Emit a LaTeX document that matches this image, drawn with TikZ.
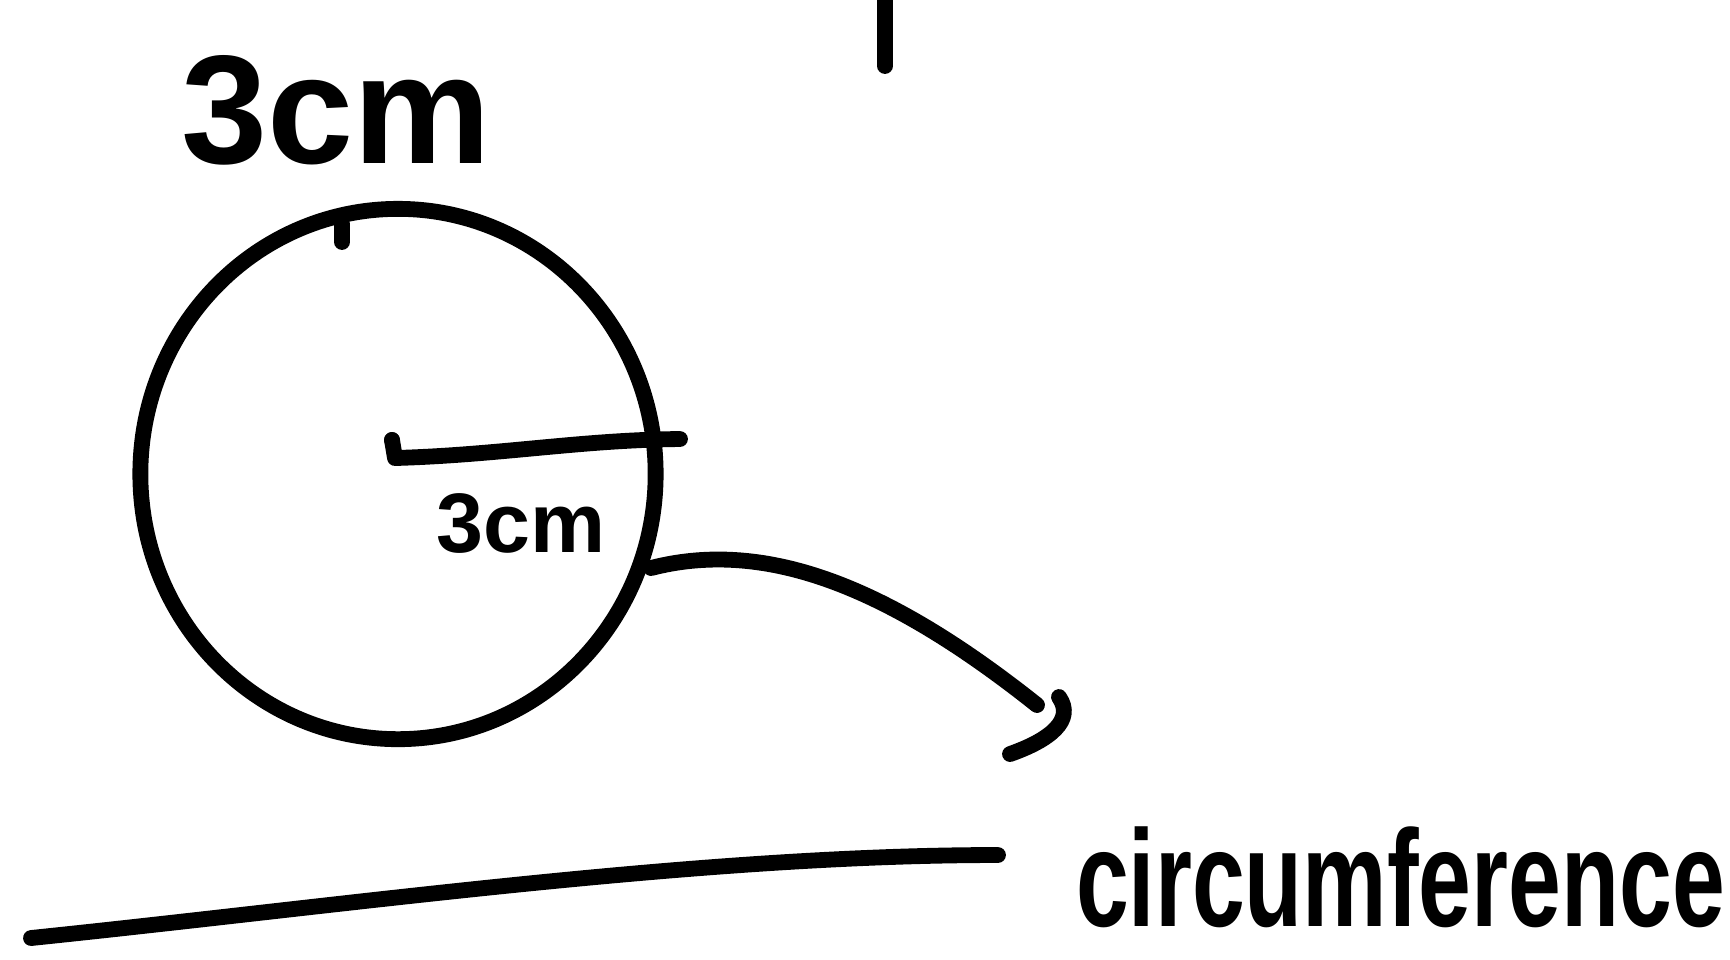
\documentclass[tikz,border=0pt]{standalone}
\usepackage{fontspec}
\usetikzlibrary{shapes.geometric}
\setmainfont{Liberation Sans}
\begin{document}
\begin{tikzpicture}[x=0.01cm,y=-0.01cm,
  pen/.style={line width=4.5pt,line cap=round,line join=round},
  handtext/.style={inner sep=0pt,outer sep=0pt,font=\bfseries}]
\useasboundingbox (0,0) rectangle (1730,959);
% vertical stroke at the top
\coordinate (vt) at (885,0);
\coordinate (vb) at (885,66);
\draw[pen] (vt) -- (vb);
% top label
\node[handtext,anchor=base] (toplabel) at (336,163) {\fontsize{44}{50}\selectfont 3cm};
% circle
\node[pen,draw,ellipse,minimum width=5.15cm,minimum height=5.3cm,inner sep=0pt] (circ) at (398,474) {};
% small tick on top of the circle
\coordinate (tk1) at (342,224);
\coordinate (tk2) at (342,242);
\draw[pen] (tk1) -- (tk2);
% radius
\coordinate (ctr) at (392,440);
\coordinate (rad0) at (395,458);
\coordinate (rad1) at (680,439);
\draw[pen] (ctr) -- (rad0) .. controls (500,455) and (580,440) .. (rad1);
\fill (ctr) circle (8);
\node[handtext,anchor=base] (radlabel) at (521,552) {\fontsize{24}{30}\selectfont 3cm};
% curved connector from circle
\coordinate (cs) at (651,568);
\coordinate (ce) at (1037,705);
\draw[pen] (cs) .. controls (760,540) and (880,580) .. (ce);
\coordinate (h1) at (1059,697);
\coordinate (h2) at (1010,754);
\draw[pen] (h1) .. controls (1075,720) and (1050,740) .. (h2);
% bottom line (unrolled circumference)
\coordinate (b1) at (31,938);
\coordinate (b2) at (998,855);
\draw[pen] (b1) .. controls (350,905) and (700,855) .. (b2);
\node[handtext,anchor=base west,yscale=1.45,transform shape] (circlabel) at (1076,926) {\fontsize{27}{32}\selectfont circumference};
\end{tikzpicture}
\end{document}
